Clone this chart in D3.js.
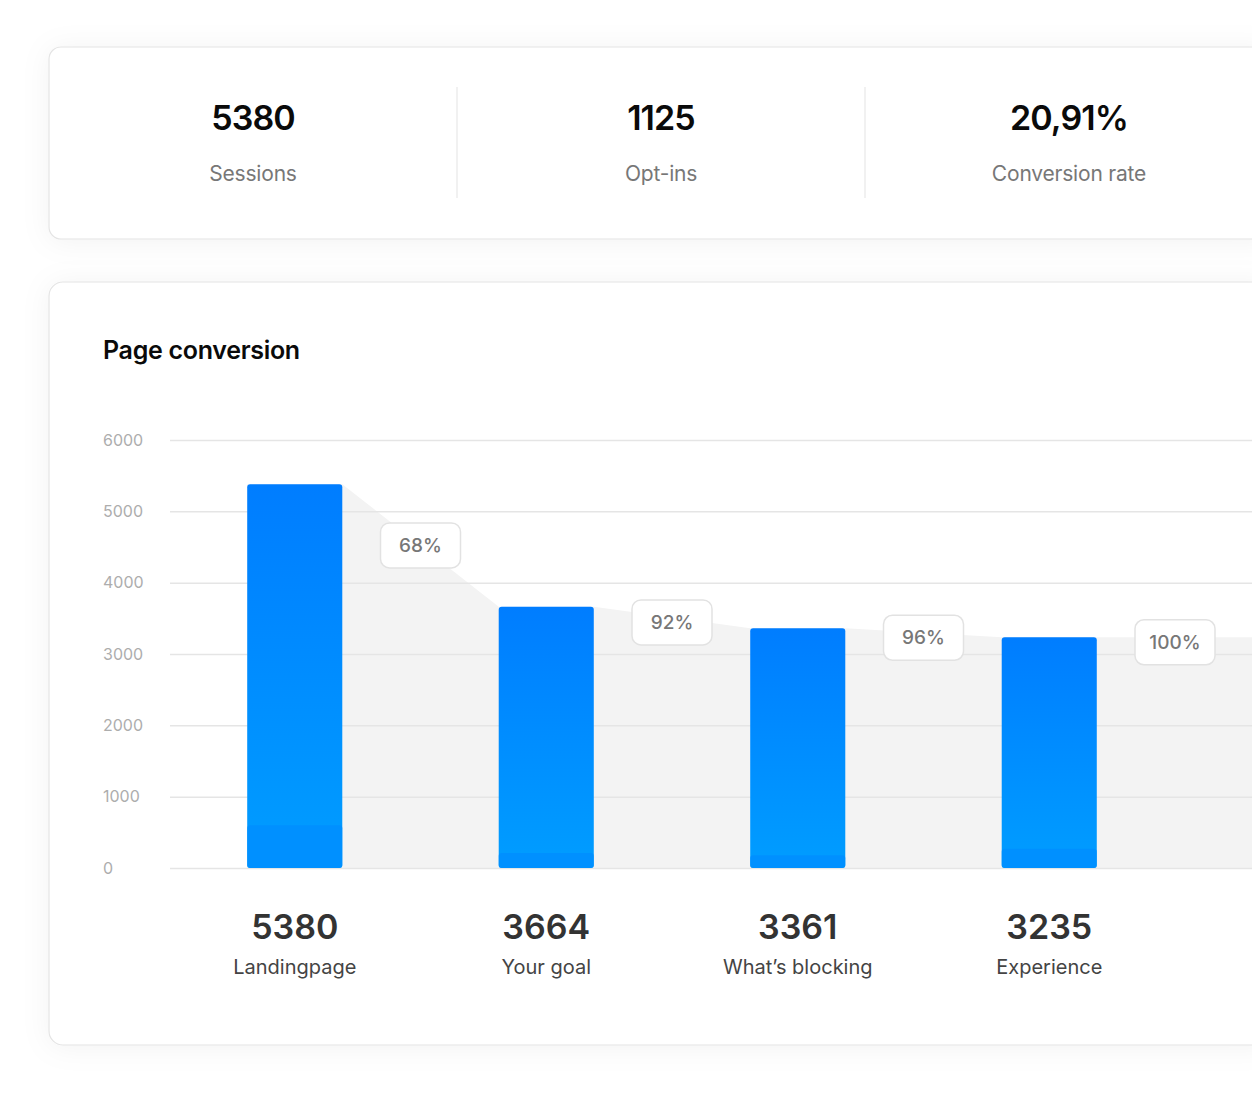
<!DOCTYPE html>
<html>
<head>
<meta charset="utf-8">
<script src="https://cdn.jsdelivr.net/npm/d3@7"></script>
<style>
  html, body { margin: 0; padding: 0; background: #fff; }
  body { width: 1252px; height: 1096px; overflow: hidden; font-family: Inter, "Noto Sans", sans-serif; }
</style>
</head>
<body>
<div id="chart"></div>
<script>
// summary stats at the top
const statValues = ['5380', '1125', '20,91%'];
const statLabels = ['Sessions', 'Opt-ins', 'Conversion rate'];

// funnel steps
const steps = ['Landingpage', 'Your goal', 'What\u2019s blocking', 'Experience'];
const stepValues = [5380, 3664, 3361, 3235];
const baseSegment = [600, 210, 180, 270]; // darker strip at the foot of each bar
const stepRates = ['68%', '92%', '96%', '100%'];
const yTicks = [0, 1000, 2000, 3000, 4000, 5000, 6000];

const width = 1252;
const height = 1096;

const svg = d3.select('#chart')
  .append('svg')
  .attr('width', width)
  .attr('height', height);

const defs = svg.append('defs');

// soft card shadow
const shadow = defs.append('filter')
  .attr('id', 'shadow')
  .attr('x', '-10%').attr('y', '-20%')
  .attr('width', '120%').attr('height', '140%');
shadow.append('feDropShadow')
  .attr('dx', 0).attr('dy', 2)
  .attr('stdDeviation', 14)
  .attr('flood-color', '#000')
  .attr('flood-opacity', 0.05);

// bar gradient
const grad = defs.append('linearGradient')
  .attr('id', 'barGrad')
  .attr('x1', 0).attr('y1', 0).attr('x2', 0).attr('y2', 1);
grad.append('stop').attr('offset', '0%').attr('stop-color', '#007dff');
grad.append('stop').attr('offset', '100%').attr('stop-color', '#009dff');

// ---------- card 1: stats ----------
const card1 = { x: 49, y: 47, w: 1224, h: 192 };
svg.append('rect')
  .attr('x', card1.x).attr('y', card1.y)
  .attr('width', card1.w).attr('height', card1.h)
  .attr('rx', 12)
  .attr('fill', '#fff')
  .attr('stroke', '#e4e4e4')
  .attr('stroke-width', 1.2)
  .attr('filter', 'url(#shadow)');

const colW = card1.w / statValues.length;
const stats = svg.append('g').attr('class', 'stats');

stats.selectAll('.divider')
  .data(d3.range(1, statValues.length))
  .join('line')
  .attr('x1', (i) => card1.x + colW * i)
  .attr('x2', (i) => card1.x + colW * i)
  .attr('y1', 87).attr('y2', 198)
  .attr('stroke', '#ececec')
  .attr('stroke-width', 1.5);

stats.selectAll('.stat-value')
  .data(statValues)
  .join('text')
  .attr('x', (d, i) => card1.x + colW * i + colW / 2)
  .attr('y', 130)
  .attr('text-anchor', 'middle')
  .attr('font-size', 34)
  .attr('font-weight', 600)
  .attr('letter-spacing', -0.9)
  .attr('fill', '#0a0a0a')
  .text((d) => d);

stats.selectAll('.stat-label')
  .data(statLabels)
  .join('text')
  .attr('x', (d, i) => card1.x + colW * i + colW / 2)
  .attr('y', 181)
  .attr('text-anchor', 'middle')
  .attr('font-size', 21)
  .attr('letter-spacing', -0.2)
  .attr('fill', '#777')
  .text((d) => d);

// ---------- card 2: page conversion ----------
const card2 = { x: 49, y: 282, w: 1224, h: 763 };
svg.append('rect')
  .attr('x', card2.x).attr('y', card2.y)
  .attr('width', card2.w).attr('height', card2.h)
  .attr('rx', 14)
  .attr('fill', '#fff')
  .attr('stroke', '#e4e4e4')
  .attr('stroke-width', 1.2)
  .attr('filter', 'url(#shadow)');

svg.append('text')
  .attr('x', 103).attr('y', 359)
  .attr('font-size', 25)
  .attr('font-weight', 600)
  .attr('letter-spacing', -0.3)
  .attr('fill', '#0a0a0a')
  .text('Page conversion');

const plot = { left: 170, right: 1273, top: 440, bottom: 868 };

const x = d3.scaleBand()
  .domain(steps)
  .range([169, 1175])
  .paddingInner(0.622)
  .paddingOuter(0.311);
const step = x.step();

const y = d3.scaleLinear()
  .domain([0, 6000])
  .range([plot.bottom, plot.top]);

// grey funnel area, from each bar top to the next one
const areaPts = [];
stepValues.forEach((v, i) => {
  areaPts.push([x(steps[i]), y(v)]);
  areaPts.push([x(steps[i]) + x.bandwidth(), y(v)]);
});
// last step carries on flat (100%) to the edge of the card
areaPts.push([plot.right, y(stepValues[stepValues.length - 1])]);

const area = d3.area()
  .x((d) => d[0])
  .y0(plot.bottom)
  .y1((d) => d[1]);

svg.append('path')
  .datum(areaPts)
  .attr('d', area)
  .attr('fill', '#f3f3f3');

// gridlines
svg.append('g')
  .attr('class', 'gridlines')
  .attr('transform', `translate(${plot.left},0)`)
  .call(d3.axisLeft(y).tickValues(yTicks).tickFormat('').tickSize(-(plot.right - plot.left)))
  .call((g) => g.select('.domain').remove())
  .call((g) => g.selectAll('line').attr('stroke', '#e5e5e5').attr('stroke-width', 1.5));

// y labels
svg.append('g')
  .selectAll('text')
  .data(yTicks)
  .join('text')
  .attr('x', 103)
  .attr('y', (d) => y(d))
  .attr('dy', '0.35em')
  .attr('font-size', 16)
  .attr('fill', '#adadad')
  .text((d) => d);

// bars
const bars = svg.append('g').attr('class', 'bars');
bars.selectAll('rect.bar')
  .data(stepValues)
  .join('rect')
  .attr('class', 'bar')
  .attr('x', (d, i) => x(steps[i]))
  .attr('y', (d) => y(d))
  .attr('width', x.bandwidth())
  .attr('height', (d) => y(0) - y(d))
  .attr('rx', 3)
  .attr('fill', 'url(#barGrad)');

bars.selectAll('rect.base')
  .data(baseSegment)
  .join('rect')
  .attr('class', 'base')
  .attr('x', (d, i) => x(steps[i]))
  .attr('y', (d) => y(d))
  .attr('width', x.bandwidth())
  .attr('height', (d) => y(0) - y(d))
  .attr('rx', 3)
  .attr('fill', '#008dff')
  .attr('opacity', 0.8);

// rate badges between steps
const badges = svg.append('g').attr('class', 'badges')
  .selectAll('g')
  .data(stepRates)
  .join('g')
  .attr('transform', (d, i) => {
    const cx = x(steps[i]) + x.bandwidth() / 2 + step / 2;
    const next = i + 1 < stepValues.length ? stepValues[i + 1] : stepValues[i];
    const cy = (y(stepValues[i]) + y(next)) / 2 + (i >= 1 ? 5 : 0);
    return `translate(${cx},${cy})`;
  });

badges.append('rect')
  .attr('x', -40).attr('y', -22.5)
  .attr('width', 80).attr('height', 45)
  .attr('rx', 9)
  .attr('fill', '#fff')
  .attr('stroke', '#e2e2e2')
  .attr('stroke-width', 1.5);

badges.append('text')
  .attr('text-anchor', 'middle')
  .attr('dy', '0.35em')
  .attr('font-size', 19)
  .attr('font-weight', 500)
  .attr('fill', '#777')
  .text((d) => d);

// values and names under the bars
const labels = svg.append('g').attr('class', 'step-labels');
labels.selectAll('text.value')
  .data(stepValues)
  .join('text')
  .attr('class', 'value')
  .attr('x', (d, i) => x(steps[i]) + x.bandwidth() / 2)
  .attr('y', 939)
  .attr('text-anchor', 'middle')
  .attr('font-size', 34)
  .attr('font-weight', 600)
  .attr('fill', '#333')
  .text((d) => d);

labels.selectAll('text.name')
  .data(steps)
  .join('text')
  .attr('class', 'name')
  .attr('x', (d) => x(d) + x.bandwidth() / 2)
  .attr('y', 974)
  .attr('text-anchor', 'middle')
  .attr('font-size', 20)
  .attr('fill', '#444')
  .text((d) => d);
</script>
</body>
</html>
